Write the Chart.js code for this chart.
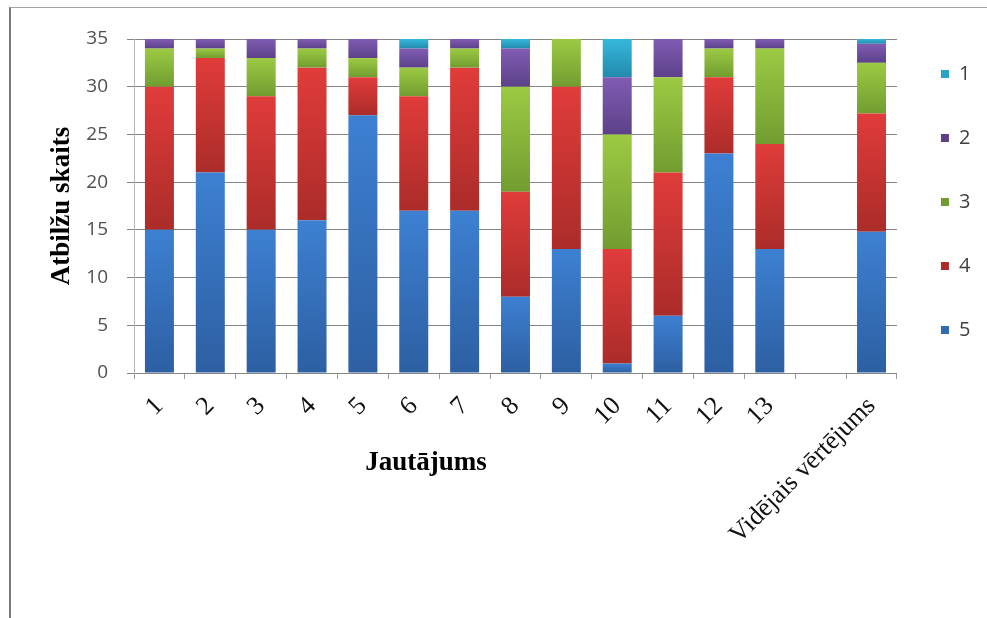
<!DOCTYPE html>
<html lang="lv">
<head>
<meta charset="utf-8">
<title>Atbilžu skaits pa jautājumiem</title>
<script src="https://cdn.jsdelivr.net/npm/chart.js@4.4.1/dist/chart.umd.min.js"></script>
<style>
  html, body { margin: 0; padding: 0; background: #ffffff; }
  #wrap { position: relative; width: 987px; height: 618px; overflow: hidden; }
  #chart { position: absolute; left: 0; top: 0; }
  #frame {
    position: absolute; left: 9px; top: 7px; right: -10px; bottom: -10px;
    border-left: 2px solid #7a7a7a; border-top: 1px solid #a3a3a3;
    pointer-events: none;
  }
</style>
</head>
<body>
<div id="wrap">
  <canvas id="chart" width="987" height="618" style="width:987px;height:618px"></canvas>
  <div id="frame"></div>
</div>
<script>
// Questions 1–13, a spacer column, then the overall average
const categories = ['1', '2', '3', '4', '5', '6', '7', '8', '9', '10', '11', '12', '13', '', 'Vidējais vērtējums'];

// Number of answers per rating (stacked from rating 5 at the bottom up to rating 1)
const rating5 = [15, 21, 15, 16, 27, 17, 17, 8, 13, 1, 6, 23, 13, null, 14.8];
const rating4 = [15, 12, 14, 16, 4, 12, 15, 11, 17, 12, 15, 8, 11, null, 12.4];
const rating3 = [4, 1, 4, 2, 2, 3, 2, 11, 5, 12, 10, 3, 10, null, 5.3];
const rating2 = [1, 1, 2, 1, 2, 2, 1, 4, 0, 6, 4, 1, 1, null, 2.0];
const rating1 = [0, 0, 0, 0, 0, 1, 0, 1, 0, 4, 0, 0, 0, null, 0.5];

const seriesLabels = ['5', '4', '3', '2', '1'];
const yMin = 0;
const yMax = 35;
const yStep = 5;

const stackOrder = [rating5, rating4, rating3, rating2, rating1];

// Vertical light-to-dark fill for every stacked segment
function segmentFill(topColor, bottomColor, flatColor) {
  return (ctx) => {
    const chart = ctx.chart;
    const y = chart.scales && chart.scales.y;
    if (ctx.type !== 'data' || !y || !chart.chartArea) return flatColor;
    const d = ctx.datasetIndex, i = ctx.dataIndex;
    let base = 0;
    for (let k = 0; k < d; k++) base += stackOrder[k][i] || 0;
    const v = stackOrder[d][i] || 0;
    const yTop = y.getPixelForValue(base + v);
    const yBot = y.getPixelForValue(base);
    if (!(yBot - yTop > 0.5)) return flatColor;
    const g = chart.ctx.createLinearGradient(0, yTop, 0, yBot);
    g.addColorStop(0, topColor);
    g.addColorStop(1, bottomColor);
    return g;
  };
}

const palette = [
  ['#3d80d2', '#2d5fa2', '#3574c4'],
  ['#e03c3a', '#ab2c29', '#c8332f'],
  ['#9cca43', '#719d30', '#8ab43c'],
  ['#805cb3', '#5c4189', '#6d4ea0'],
  ['#35b8db', '#238aac', '#2aa3c8']
];

// Horizontal axis caption placed under the tick labels
const axisCaption = {
  id: 'axisCaption',
  afterDraw(chart, args, o) {
    const { ctx, chartArea } = chart;
    ctx.save();
    ctx.font = o.font;
    ctx.fillStyle = o.color;
    ctx.textAlign = 'center';
    ctx.textBaseline = 'middle';
    const x = chartArea.left + o.xFrac * (chartArea.right - chartArea.left);
    ctx.fillText(o.text, x, chartArea.bottom + o.dy);
    ctx.restore();
  }
};

new Chart(document.getElementById('chart'), {
  type: 'bar',
  data: {
    labels: categories,
    datasets: stackOrder.map((values, idx) => ({
      label: seriesLabels[idx],
      data: values,
      backgroundColor: segmentFill(palette[idx][0], palette[idx][1], palette[idx][2]),
      borderWidth: 0,
      barPercentage: 0.57,
      categoryPercentage: 1.0
    }))
  },
  options: {
    responsive: false,
    devicePixelRatio: 1,
    animation: false,
    events: [],
    layout: { padding: { left: 46, right: 6.6, top: 20, bottom: 0 } },
    scales: {
      x: {
        stacked: true,
        offset: true,
        afterFit(scale) { scale.height = 245; },
        grid: { display: true, drawOnChartArea: false, drawTicks: true, tickLength: 6, color: '#9a9a9a', offset: true },
        border: { color: '#858585', width: 1 },
        ticks: {
          autoSkip: false, minRotation: 45, maxRotation: 45, padding: 12,
          color: '#111111', font: { family: 'Liberation Serif', size: 26 }
        }
      },
      y: {
        stacked: true,
        min: yMin,
        max: yMax,
        afterFit(scale) { scale.width = 88; },
        grid: { color: '#858585', lineWidth: 1, drawTicks: true, tickLength: 7 },
        border: { color: '#b5b5b5', width: 1 },
        ticks: {
          stepSize: yStep, padding: 19, color: '#505050',
          font: { family: 'Open Sans', size: 19 }
        },
        title: {
          display: true, text: 'Atbilžu skaits', color: '#000000', padding: 0,
          font: { family: 'Liberation Serif', size: 27, weight: 'bold' }
        }
      }
    },
    plugins: {
      // empty heading strip that keeps the plot top below the legend start
      title: { display: true, text: '', padding: 0, font: { size: 19, lineHeight: 1 } },
      legend: {
        position: 'right',
        fullSize: true,
        reverse: true,
        align: 'start',
        labels: {
          boxWidth: 8, boxHeight: 8, padding: 44, color: '#404040',
          font: { family: 'Open Sans', size: 20 }
        }
      },
      tooltip: { enabled: false },
      axisCaption: {
        text: 'Jautājums', color: '#000000',
        font: 'bold 27px "Liberation Serif"',
        xFrac: 0.3827, dy: 90
      }
    }
  },
  plugins: [axisCaption]
});
</script>
</body>
</html>
